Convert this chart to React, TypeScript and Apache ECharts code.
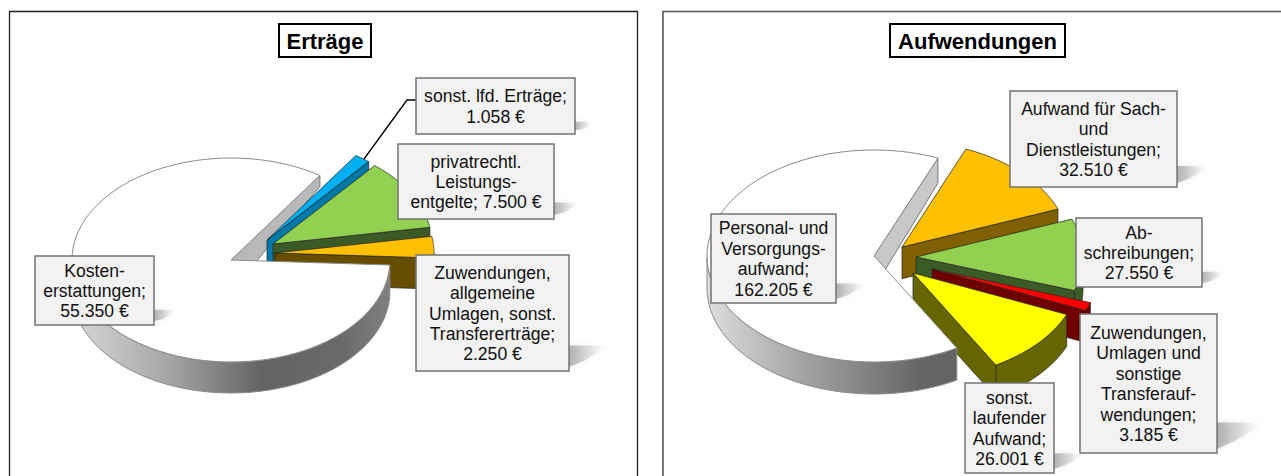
import React, { useEffect, useRef } from "react";
import * as echarts from "echarts";

// ---- data (clockwise paint order, largest slice last) ----
const incomeNames = ["sonst. lfd. Erträge", "privatrechtl. Leistungsentgelte", "Zuwendungen, allgemeine Umlagen, sonst. Transfererträge", "Kostenerstattungen"];
const incomeValues = [1058, 7500, 2250, 55350];
const incomeLabelLines = [["sonst. lfd. Erträge;", ""], ["privatrechtl.", "Leistungs-", "entgelte; "], ["Zuwendungen,", "allgemeine", "Umlagen, sonst.", "Transfererträge;", ""], ["Kosten-", "erstattungen;", ""]];
const costNames = ["Aufwand für Sach- und Dienstleistungen", "Abschreibungen", "Zuwendungen, Umlagen und sonstige Transferaufwendungen", "sonst. laufender Aufwand", "Personal- und Versorgungsaufwand"];
const costValues = [32510, 27550, 3185, 26001, 162205];
const costLabelLines = [["Aufwand für Sach-", "und", "Dienstleistungen;", ""], ["Ab-", "schreibungen;", ""], ["Zuwendungen,", "Umlagen und", "sonstige", "Transferauf-", "wendungen;", ""], ["sonst.", "laufender", "Aufwand;", ""], ["Personal- und", "Versorgungs-", "aufwand;", ""]];

// ---- layout and style ----
const FONT = "'Liberation Sans', Arial, sans-serif";
const fmt = (v: number) => String(v).replace(/\B(?=(\d{3})+$)/g, ".") + " €";

type Pie = {
  names: string[]; values: number[]; lines: string[][];
  cx: number; cy: number; rx: number; ry: number; start: number;
  depth: number; backDepth: number; backY: number; fullY: number;
  offsets: number[][]; tops: string[]; sides: string[]; inner: string;
  boxes: number[][]; stops: [number, string][];
};

const income: Pie = {
  names: incomeNames, values: incomeValues, lines: incomeLabelLines,
  cx: 231, cy: 260, rx: 159, ry: 102, start: 56,
  depth: 31, backDepth: 11, backY: 175, fullY: 250,
  offsets: [[36, -20], [42, -16], [44, -7], [0, 0]],
  tops: ["#00b0f0", "#92d050", "#ffc000", "#ffffff"],
  sides: ["#0079a8", "#3a5a26", "#664d00", "#777777"],
  inner: "#b9b9b9",
  boxes: [[416, 78, 575, 134], [398, 144, 554, 219], [416, 255, 569, 371], [35, 256, 154, 325]],
  stops: [[0, "#d8d8d8"], [0.3, "#a6a6a6"], [0.6, "#636363"], [0.85, "#6a6a6a"], [1, "#808080"]],
};
const costs: Pie = {
  names: costNames, values: costValues, lines: costLabelLines,
  cx: 874, cy: 256, rx: 167, ry: 106, start: 67.5,
  depth: 32, backDepth: 25, backY: 158, fullY: 250,
  offsets: [[28, -9], [42, 1], [58, 13], [39, 17], [0, 0]],
  tops: ["#ffc000", "#92d050", "#ff0000", "#ffff00", "#ffffff"],
  sides: ["#806000", "#3a5a26", "#700000", "#666600", "#777777"],
  inner: "#c8c8c8",
  boxes: [[1010, 91, 1177, 187], [1076, 218, 1202, 287], [1080, 314, 1217, 453], [965, 383, 1054, 473], [711, 214, 836, 303]],
  stops: [[0, "#dedede"], [0.35, "#a8a8a8"], [0.85, "#666666"], [1, "#636363"]],
};

const rad = (d: number) => (d * Math.PI) / 180;

function slices(p: Pie) {
  const total = p.values.reduce((a, b) => a + b, 0);
  let cur = p.start;
  return p.values.map((v) => {
    const sweep = (v / total) * 360;
    const hi = cur; const lo = cur - sweep;
    cur = lo;
    return { hi, lo };
  });
}

function pieItem(p: Pie, idx: number) {
  const { hi, lo } = slices(p)[idx];
  const [ox, oy] = p.offsets[idx];
  const apex = [p.cx + ox, p.cy + oy];
  const pt = (deg: number) => [apex[0] + p.rx * Math.cos(rad(deg)), apex[1] - p.ry * Math.sin(rad(deg))];
  const dep = (y: number) => {
    const t = Math.max(0, Math.min(1, (y - p.backY) / (p.fullY - p.backY)));
    return p.backDepth + (p.depth - p.backDepth) * t;
  };
  const down = (q: number[]) => [q[0], q[1] + dep(q[1])];
  const arc: number[][] = [];
  const N = 90;
  for (let i = 0; i <= N; i++) arc.push(pt(hi + ((lo - hi) * i) / N));
  const isMain = idx === p.values.length - 1;
  const baseZ = 10 + idx * 4;
  const edge = isMain ? "#8a8a8a" : "rgba(40,40,40,0.75)";
  const children: any[] = [];
  const poly = (points: number[][], fill: any, z2: number, stroke = edge) => ({
    type: "polygon", z2, shape: { points }, style: { fill, stroke, lineWidth: 1, lineJoin: "round" },
  });
  // outer wall: only the part that faces the viewer
  const wall: number[] = [];
  for (let i = 0; i <= N; i++) {
    const a = hi + ((lo - hi) * i) / N;
    if (Math.sin(rad(a)) <= 0) wall.push(a);
  }
  if (wall.length > 1) {
    const topEdge = wall.map(pt);
    const botEdge = topEdge.map(down).reverse();
    const fill = isMain
      ? new echarts.graphic.LinearGradient(0, 0, 1, 0, p.stops.map(([offset, color]) => ({ offset, color })))
      : p.sides[idx];
    children.push(poly([...topEdge, ...botEdge], fill, isMain ? 60 : baseZ));
  }
  // radial cut faces
  if (isMain) {
    // inner face of the largest slice, seen through the gap left by the others
    const a = pt(lo);
    children.push(poly([apex, a, down(a), down(apex)], p.inner, 1, "#777777"));
  } else {
    const a = pt(lo);
    if (Math.cos(rad(lo)) > 0) children.push(poly([apex, a, down(a), down(apex)], p.sides[idx], baseZ + 1));
    const b = pt(hi);
    if (Math.cos(rad(hi)) < 0) children.push(poly([apex, b, down(b), down(apex)], p.sides[idx], baseZ + 1));
  }
  children.push(poly([apex, ...arc], p.tops[idx], isMain ? 61 : baseZ + 2));
  return { type: "group", children };
}

function makeSeries(p: Pie, id: string) {
  return {
    type: "custom", id, coordinateSystem: "none", silent: true, z: 2,
    data: p.values.map((value, i) => ({ name: p.names[i], value })),
    renderItem: (params: any) => pieItem(p, params.dataIndex),
  };
}

function labelElements(p: Pie) {
  const els: any[] = [];
  p.boxes.forEach(([x0, y0, x1, y1], i) => {
    const h = y1 - y0;
    const len = 0.37 * h;
    const rise = 0.22 * h;
    els.push({
      type: "polygon", z: 10,
      shape: { points: [[x1, y1 - 4], [x1, y1 - rise], [x1 + len * 0.5, y1 - rise], [x1 + len * 0.9, y1 - rise + 1], [x1 + len * 0.35, y1 - rise * 0.4]] },
      style: {
        fill: new echarts.graphic.LinearGradient(0, 0, 1, 0, [
          { offset: 0, color: "rgba(120,120,120,0.55)" },
          { offset: 0.6, color: "rgba(170,170,170,0.25)" },
          { offset: 1, color: "rgba(220,220,220,0)" },
        ]),
        shadowBlur: 6, shadowColor: "rgba(170,170,170,0.55)",
      },
    });
    els.push({
      type: "rect", z: 11,
      shape: { x: x0, y: y0, width: x1 - x0, height: y1 - y0 },
      style: { fill: "#f2f2f2", stroke: "#737373", lineWidth: 1.5 },
    });
    els.push({
      type: "text", z: 12,
      style: {
        x: (x0 + x1) / 2, y: (y0 + y1) / 2 + 0.5,
        text: p.lines[i].join("\n") + fmt(p.values[i]),
        align: "center", verticalAlign: "middle", fontSize: 17.6, lineHeight: 20.4,
        fontFamily: FONT, fill: "#111111",
      },
    });
  });
  return els;
}

function titleEl(text: string, x0: number, x1: number) {
  return [
    { type: "rect", z: 1, shape: { x: x0, y: 24, width: x1 - x0, height: 33 }, style: { fill: "#ffffff", stroke: "#000000", lineWidth: 2 } },
    { type: "text", z: 2, style: { x: (x0 + x1) / 2, y: 41, text, align: "center", verticalAlign: "middle", fontSize: 22, fontWeight: "bold", fontFamily: FONT, fill: "#000000" } },
  ];
}

const frame = (x: number, w: number, stroke: string, lineWidth: number) => ({
  type: "rect", z: 0, shape: { x, y: 11.5, width: w, height: 480 }, style: { fill: "#ffffff", stroke, lineWidth },
});

export default function App() {
  const ref = useRef<HTMLDivElement>(null);
  useEffect(() => {
    document.body.style.margin = "0";
    document.body.style.overflow = "hidden";
    const chart = echarts.init(ref.current!, undefined, { renderer: "svg" });
    chart.setOption({
      animation: false,
      backgroundColor: "#ffffff",
      graphic: {
        elements: [
          frame(9.5, 628, "#222222", 1.3),
          frame(663, 640, "#555555", 1.6),
          ...titleEl("Erträge", 279, 371),
          ...titleEl("Aufwendungen", 890, 1065),
          { type: "polyline", z: 9, shape: { points: [[364, 159], [407, 100], [416, 100]] }, style: { stroke: "#000000", lineWidth: 1.3, fill: "none" } },
          ...labelElements(income),
          ...labelElements(costs),
        ],
      },
      series: [makeSeries(income, "income"), makeSeries(costs, "costs")],
    });
    return () => chart.dispose();
  }, []);
  return <div ref={ref} style={{ position: "absolute", left: 0, top: 0, width: 1281, height: 476 }} />;
}
